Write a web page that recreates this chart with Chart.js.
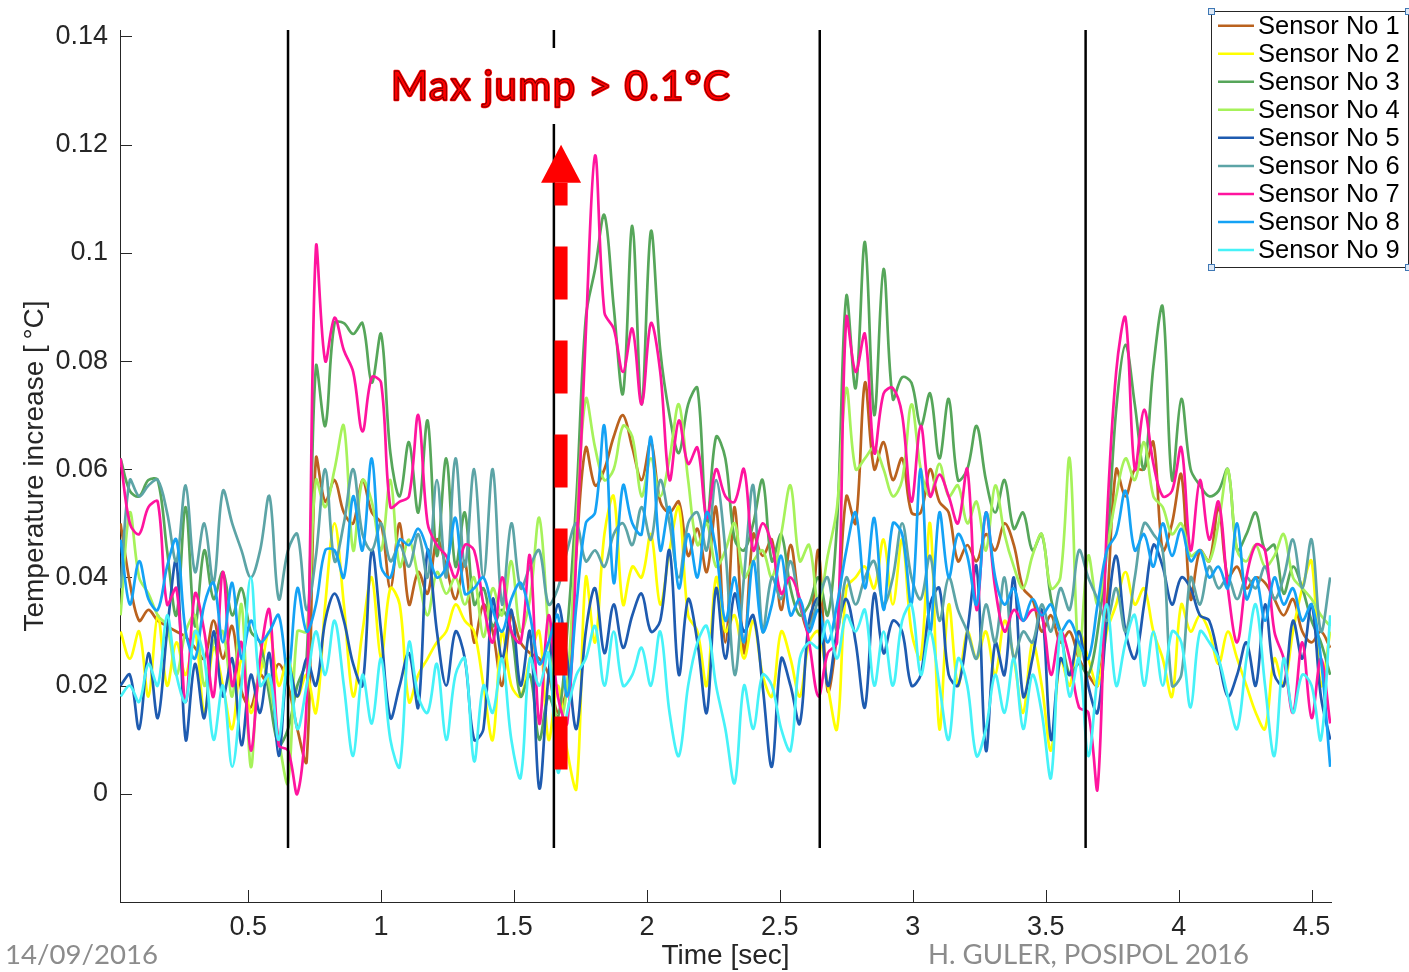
<!DOCTYPE html>
<html>
<head>
<meta charset="utf-8">
<script src="https://cdn.jsdelivr.net/npm/chart.js@4/dist/chart.umd.min.js"></script>
<style>
  html, body { margin: 0; padding: 0; background: #ffffff; }
  canvas { display: block; }
</style>
</head>
<body>
<canvas id="chart" width="1409" height="972"></canvas>
<script>
// Sampling of the sensor records [sec]
const sampleStart = 0.02;
const sampleStep = 0.035;

const sensorNames = ['Sensor No 1','Sensor No 2','Sensor No 3','Sensor No 4','Sensor No 5',
                     'Sensor No 6','Sensor No 7','Sensor No 8','Sensor No 9'];

// Temperature increase [°C] per sensor
const sensor1 = [
  0.05,0.039,0.032,0.034,0.032,0.031,0.03,0.029,0.027,0.025,
  0.032,0.025,0.031,0.019,0.016,0.022,0.02,0.024,0.02,0.012,
  0.006,0.062,0.054,0.058,0.052,0.05,0.058,0.052,0.05,0.038,
  0.05,0.035,0.041,0.037,0.047,0.042,0.036,0.043,0.028,0.035,
  0.03,0.02,0.033,0.028,0.026,0.025,0.022,0.015,0.02,0.045,
  0.064,0.057,0.06,0.066,0.07,0.064,0.058,0.065,0.054,0.052,
  0.054,0.044,0.049,0.041,0.053,0.028,0.053,0.026,0.048,0.044,
  0.047,0.034,0.046,0.035,0.03,0.045,0.019,0.03,0.055,0.05,
  0.076,0.06,0.065,0.058,0.062,0.052,0.052,0.06,0.054,0.052,
  0.043,0.046,0.043,0.048,0.045,0.05,0.046,0.038,0.036,0.03,
  0.033,0.028,0.03,0.025,0.022,0.02,0.035,0.06,0.055,0.06,
  0.06,0.065,0.045,0.05,0.059,0.036,0.045,0.043,0.053,0.04,
  0.042,0.038,0.04,0.039,0.036,0.033,0.036,0.03,0.028,0.03,
  0.027
];
const sensor2 = [
  0.03,0.025,0.03,0.018,0.033,0.02,0.028,0.022,0.03,0.015,
  0.027,0.02,0.012,0.025,0.015,0.022,0.03,0.02,0.025,0.018,
  0.022,0.015,0.035,0.05,0.035,0.018,0.03,0.04,0.025,0.038,
  0.035,0.017,0.022,0.025,0.028,0.03,0.035,0.032,0.03,0.02,
  0.01,0.03,0.02,0.018,0.025,0.03,0.01,0.02,0.008,0.001,
  0.04,0.028,0.048,0.055,0.035,0.042,0.04,0.048,0.035,0.045,
  0.053,0.033,0.03,0.02,0.04,0.03,0.033,0.025,0.032,0.022,
  0.018,0.03,0.025,0.018,0.028,0.03,0.02,0.012,0.038,0.04,
  0.042,0.038,0.047,0.035,0.047,0.03,0.025,0.05,0.012,0.035,
  0.02,0.03,0.025,0.03,0.022,0.032,0.025,0.015,0.028,0.02,
  0.008,0.025,0.02,0.03,0.025,0.02,0.03,0.035,0.041,0.035,
  0.038,0.03,0.025,0.018,0.035,0.03,0.033,0.03,0.024,0.03,
  0.025,0.02,0.015,0.012,0.025,0.02,0.03,0.038,0.043,0.02,
  0.03
];
const sensor3 = [
  0.062,0.056,0.055,0.058,0.058,0.045,0.033,0.053,0.031,0.045,
  0.036,0.041,0.033,0.038,0.03,0.028,0.018,0.009,0.012,0.02,
  0.025,0.079,0.068,0.087,0.087,0.085,0.087,0.076,0.085,0.063,
  0.055,0.065,0.052,0.069,0.044,0.062,0.042,0.052,0.035,0.038,
  0.031,0.034,0.03,0.018,0.022,0.01,0.018,0.014,0.03,0.055,
  0.088,0.097,0.107,0.09,0.074,0.105,0.072,0.104,0.082,0.07,
  0.063,0.072,0.075,0.05,0.066,0.062,0.047,0.045,0.05,0.058,
  0.043,0.048,0.038,0.033,0.035,0.04,0.033,0.05,0.092,0.075,
  0.102,0.07,0.097,0.073,0.077,0.076,0.068,0.074,0.062,0.073,
  0.058,0.06,0.068,0.058,0.052,0.058,0.049,0.052,0.045,0.048,
  0.036,0.03,0.022,0.024,0.022,0.03,0.045,0.071,0.083,0.072,
  0.06,0.079,0.09,0.058,0.073,0.06,0.057,0.055,0.056,0.06,
  0.045,0.048,0.052,0.045,0.046,0.037,0.042,0.038,0.032,0.028,
  0.022
];
const sensor4 = [
  0.033,0.052,0.04,0.037,0.033,0.031,0.022,0.03,0.033,0.02,
  0.028,0.03,0.018,0.035,0.005,0.025,0.02,0.01,0.002,0.03,
  0.03,0.058,0.053,0.06,0.068,0.045,0.058,0.054,0.045,0.058,
  0.042,0.047,0.04,0.033,0.041,0.037,0.04,0.035,0.04,0.029,
  0.038,0.033,0.043,0.03,0.036,0.051,0.03,0.012,0.02,0.05,
  0.073,0.064,0.058,0.06,0.068,0.066,0.055,0.062,0.055,0.062,
  0.072,0.058,0.046,0.05,0.042,0.045,0.05,0.04,0.043,0.045,
  0.04,0.048,0.057,0.043,0.046,0.035,0.044,0.053,0.075,0.06,
  0.062,0.064,0.06,0.055,0.058,0.072,0.06,0.055,0.061,0.055,
  0.057,0.05,0.054,0.045,0.057,0.048,0.042,0.038,0.044,0.048,
  0.038,0.04,0.062,0.025,0.044,0.035,0.045,0.055,0.062,0.058,
  0.065,0.055,0.053,0.048,0.05,0.044,0.045,0.043,0.05,0.06,
  0.045,0.043,0.046,0.042,0.044,0.048,0.04,0.038,0.036,0.033,
  0.031
];
const sensor5 = [
  0.02,0.022,0.012,0.026,0.014,0.03,0.043,0.01,0.024,0.014,
  0.03,0.018,0.025,0.009,0.022,0.015,0.026,0.007,0.024,0.018,
  0.025,0.02,0.032,0.037,0.032,0.024,0.02,0.045,0.03,0.014,
  0.02,0.026,0.016,0.045,0.03,0.02,0.03,0.025,0.01,0.012,
  0.036,0.025,0.034,0.02,0.03,0.001,0.022,0.035,0.025,0.012,
  0.03,0.038,0.026,0.035,0.027,0.033,0.037,0.03,0.032,0.045,
  0.022,0.036,0.028,0.015,0.038,0.025,0.037,0.03,0.033,0.02,
  0.005,0.025,0.02,0.013,0.032,0.036,0.02,0.03,0.036,0.028,
  0.016,0.037,0.026,0.032,0.03,0.02,0.022,0.035,0.038,0.022,
  0.02,0.03,0.042,0.008,0.028,0.022,0.04,0.018,0.025,0.034,
  0.01,0.025,0.022,0.03,0.02,0.015,0.032,0.044,0.03,0.025,
  0.035,0.046,0.042,0.035,0.04,0.038,0.033,0.032,0.025,0.018,
  0.022,0.028,0.02,0.035,0.022,0.02,0.032,0.025,0.035,0.018,
  0.01
];
const sensor6 = [
  0.038,0.058,0.055,0.057,0.058,0.052,0.043,0.057,0.041,0.05,
  0.039,0.056,0.05,0.045,0.04,0.045,0.055,0.036,0.045,0.048,
  0.034,0.044,0.06,0.043,0.05,0.06,0.048,0.045,0.05,0.043,
  0.046,0.042,0.048,0.04,0.058,0.04,0.062,0.042,0.06,0.04,
  0.06,0.035,0.05,0.038,0.042,0.045,0.035,0.038,0.045,0.05,
  0.043,0.045,0.042,0.048,0.05,0.046,0.053,0.047,0.058,0.05,
  0.04,0.05,0.052,0.045,0.058,0.045,0.022,0.04,0.057,0.03,
  0.04,0.036,0.043,0.035,0.031,0.036,0.04,0.03,0.04,0.035,
  0.04,0.043,0.035,0.04,0.05,0.04,0.036,0.044,0.032,0.04,
  0.034,0.03,0.025,0.035,0.028,0.04,0.025,0.03,0.028,0.035,
  0.03,0.038,0.034,0.045,0.04,0.036,0.032,0.038,0.03,0.04,
  0.05,0.048,0.045,0.02,0.022,0.04,0.035,0.042,0.038,0.04,
  0.036,0.04,0.038,0.042,0.036,0.04,0.047,0.038,0.047,0.03,
  0.04
];
const sensor7 = [
  0.062,0.05,0.048,0.053,0.054,0.035,0.038,0.017,0.037,0.03,
  0.018,0.041,0.02,0.028,0.008,0.025,0.034,0.009,0.008,0.0,
  0.017,0.101,0.08,0.088,0.082,0.078,0.067,0.077,0.076,0.053,
  0.054,0.055,0.07,0.05,0.046,0.044,0.04,0.046,0.045,0.035,
  0.028,0.04,0.03,0.028,0.044,0.013,0.033,0.018,0.013,0.045,
  0.085,0.118,0.089,0.086,0.078,0.086,0.072,0.087,0.078,0.058,
  0.069,0.061,0.064,0.051,0.06,0.055,0.054,0.06,0.045,0.05,
  0.046,0.037,0.04,0.036,0.028,0.018,0.026,0.028,0.088,0.078,
  0.085,0.063,0.074,0.075,0.07,0.054,0.068,0.055,0.059,0.055,
  0.05,0.06,0.034,0.052,0.038,0.03,0.034,0.032,0.034,0.033,
  0.022,0.03,0.025,0.016,0.015,0.001,0.05,0.078,0.088,0.06,
  0.071,0.061,0.055,0.056,0.064,0.045,0.058,0.047,0.054,0.038,
  0.028,0.04,0.046,0.045,0.03,0.025,0.015,0.028,0.014,0.025,
  0.013
];
const sensor8 = [
  0.047,0.035,0.043,0.036,0.034,0.042,0.047,0.03,0.025,0.035,
  0.039,0.028,0.039,0.025,0.032,0.028,0.03,0.033,0.022,0.038,
  0.03,0.035,0.045,0.045,0.04,0.055,0.045,0.062,0.042,0.04,
  0.047,0.046,0.049,0.045,0.04,0.042,0.051,0.037,0.038,0.04,
  0.034,0.03,0.036,0.039,0.033,0.024,0.028,0.033,0.018,0.035,
  0.05,0.052,0.068,0.039,0.057,0.05,0.048,0.066,0.045,0.053,
  0.038,0.048,0.04,0.052,0.045,0.032,0.04,0.028,0.043,0.03,
  0.035,0.044,0.033,0.036,0.03,0.034,0.028,0.035,0.045,0.052,
  0.038,0.051,0.034,0.05,0.048,0.035,0.06,0.03,0.052,0.04,
  0.048,0.044,0.035,0.052,0.04,0.035,0.038,0.032,0.036,0.033,
  0.035,0.03,0.032,0.028,0.025,0.035,0.045,0.048,0.056,0.045,
  0.048,0.042,0.05,0.044,0.049,0.043,0.045,0.04,0.042,0.038,
  0.05,0.036,0.04,0.032,0.04,0.035,0.038,0.032,0.035,0.025,
  0.005
];
const sensor9 = [
  0.018,0.02,0.017,0.024,0.02,0.033,0.022,0.017,0.03,0.025,
  0.01,0.02,0.005,0.02,0.04,0.02,0.022,0.01,0.025,0.012,
  0.02,0.03,0.022,0.032,0.02,0.007,0.022,0.013,0.025,0.01,
  0.005,0.028,0.018,0.015,0.024,0.01,0.022,0.025,0.006,0.02,
  0.015,0.025,0.01,0.003,0.025,0.02,0.026,0.004,0.015,0.022,
  0.025,0.031,0.02,0.03,0.02,0.022,0.027,0.02,0.03,0.015,
  0.007,0.02,0.028,0.031,0.02,0.012,0.002,0.02,0.012,0.022,
  0.02,0.012,0.008,0.025,0.028,0.027,0.032,0.025,0.033,0.03,
  0.034,0.02,0.03,0.02,0.032,0.035,0.022,0.03,0.02,0.01,
  0.025,0.02,0.007,0.012,0.022,0.015,0.025,0.012,0.022,0.015,
  0.003,0.03,0.018,0.025,0.007,0.022,0.035,0.02,0.028,0.033,
  0.02,0.03,0.02,0.03,0.028,0.016,0.03,0.028,0.025,0.018,
  0.012,0.025,0.035,0.02,0.007,0.025,0.015,0.022,0.02,0.01,
  0.033
];

// Moments of the beam steps [sec]
const stepTimes = [0.65, 1.65, 2.65, 3.65];

// Axis ranges and ticks
const xRange = [0.018, 4.573];
const yRange = [-0.02, 0.1412];
const xTicks = [0.5, 1, 1.5, 2, 2.5, 3, 3.5, 4, 4.5];
const xTickLabels = ['0.5', '1', '1.5', '2', '2.5', '3', '3.5', '4', '4.5'];
const yTicks = [0, 0.02, 0.04, 0.06, 0.08, 0.1, 0.12, 0.14];
const yTickLabels = ['0', '0.02', '0.04', '0.06', '0.08', '0.1', '0.12', '0.14'];
const stepLineBottom = -0.01;

// Annotation of the largest jump
const jumpTime = 1.677;
const jumpFrom = 0.0045;
const jumpTo = 0.12;
const jumpText = 'Max jump > 0.1°C';

// Styles
const sensorColors = ['#BA621E', '#FFFF00', '#56A65A', '#A6F25A', '#1E5BB0',
                      '#5CA4A6', '#FF149E', '#14A2F5', '#46F2F8'];
const axisColor = '#262626';
const sansFont = '"Liberation Sans", Arial, Helvetica, sans-serif';
const slideFont = 'Lato, "Open Sans", sans-serif';

const sensorSeries = [sensor1, sensor2, sensor3, sensor4, sensor5, sensor6, sensor7, sensor8, sensor9];
const time = sensor1.map((_, i) => Math.round((sampleStart + i * sampleStep) * 1000) / 1000);

const datasets = sensorSeries.map((values, k) => ({
  label: sensorNames[k],
  data: values.map((v, i) => ({ x: time[i], y: v })),
  borderColor: sensorColors[k],
  borderWidth: 2.7,
  pointRadius: 0,
  tension: 0.35,
  fill: false,
  order: 20 - k
}));
stepTimes.forEach(t => datasets.push({
  label: '',
  data: [{ x: t, y: stepLineBottom }, { x: t, y: yRange[1] }],
  borderColor: '#000000',
  borderWidth: 2.5,
  pointRadius: 0,
  fill: false,
  order: 0
}));

// Fit a font size so that the text spans the given width
function fitFont(ctx, text, weight, family, width) {
  ctx.font = weight + ' 100px ' + family;
  const w = ctx.measureText(text).width;
  return weight + ' ' + (100 * width / w).toFixed(2) + 'px ' + family;
}

const decorations = {
  id: 'decorations',
  beforeDatasetsDraw(chart) {
    // Tick marks pointing into the plot
    const { ctx, scales: { x, y }, chartArea: a } = chart;
    ctx.save();
    ctx.strokeStyle = axisColor;
    ctx.lineWidth = 1;
    ctx.beginPath();
    yTicks.forEach(v => {
      const py = Math.round(y.getPixelForValue(v)) + 0.5;
      ctx.moveTo(a.left, py); ctx.lineTo(a.left + 12, py);
    });
    xTicks.forEach(v => {
      const px = Math.round(x.getPixelForValue(v)) + 0.5;
      ctx.moveTo(px, a.bottom); ctx.lineTo(px, a.bottom - 12);
    });
    ctx.stroke();
    ctx.restore();
  },
  afterDraw(chart) {
    const { ctx, scales: { x, y }, chartArea: a } = chart;
    ctx.save();

    // Dashed arrow marking the jump
    const ax = x.getPixelForValue(jumpTime);
    const yBottom = y.getPixelForValue(jumpFrom);
    const yTip = y.getPixelForValue(jumpTo);
    const yBase = yTip + 38;
    ctx.strokeStyle = '#FF0000';
    ctx.fillStyle = '#FF0000';
    ctx.lineWidth = 13;
    ctx.lineCap = 'butt';
    ctx.setLineDash([53, 41]);
    ctx.beginPath();
    ctx.moveTo(ax, yBottom);
    ctx.lineTo(ax, yBase);
    ctx.stroke();
    ctx.setLineDash([]);
    ctx.beginPath();
    ctx.moveTo(ax, yTip);
    ctx.lineTo(ax - 20, yBase);
    ctx.lineTo(ax + 20, yBase);
    ctx.closePath();
    ctx.fill();

    // Annotation text on a white box: red glyphs with a thin dark outline
    ctx.fillStyle = '#ffffff';
    ctx.fillRect(383, 48, 356, 76);
    ctx.save();
    ctx.font = 'normal 41px ' + slideFont;
    ctx.letterSpacing = '1.5px';
    const tw = ctx.measureText(jumpText).width;
    ctx.translate(ax, 100);
    ctx.scale(Math.min(1.05, 340 / tw), 1);
    ctx.textAlign = 'center';
    ctx.textBaseline = 'alphabetic';
    ctx.lineJoin = 'round';
    ctx.strokeStyle = '#FF0000';
    ctx.lineWidth = 2.6;
    ctx.strokeText(jumpText, 0, 0);
    ctx.fillStyle = '#FF0000';
    ctx.fillText(jumpText, 0, 0);
    ctx.strokeStyle = 'rgba(60,0,0,0.8)';
    ctx.lineWidth = 0.8;
    ctx.strokeText(jumpText, 0, 0);
    ctx.restore();

    // Axis titles
    ctx.fillStyle = axisColor;
    ctx.font = '28px ' + sansFont;
    ctx.textAlign = 'center';
    ctx.textBaseline = 'middle';
    ctx.fillText('Time [sec]', (a.left + a.right) / 2, 956);
    ctx.save();
    ctx.translate(35, (a.top + a.bottom) / 2);
    ctx.rotate(-Math.PI / 2);
    ctx.fillText('Temperature increase [\u2009°C]', 0, 0);
    ctx.restore();

    // Footer
    ctx.fillStyle = '#8C8C8C';
    ctx.textAlign = 'left';
    ctx.textBaseline = 'middle';
    ctx.font = fitFont(ctx, '14/09/2016', 'normal', slideFont, 153);
    ctx.fillText('14/09/2016', 5, 955);
    ctx.font = fitFont(ctx, 'H. GULER, POSIPOL 2016', 'normal', slideFont, 321);
    ctx.fillText('H. GULER, POSIPOL 2016', 928, 955);

    // Legend
    const lx = 1211, ly = 11, lw = 197, lh = 256;
    ctx.fillStyle = '#ffffff';
    ctx.fillRect(lx, ly, lw, lh);
    ctx.strokeStyle = axisColor;
    ctx.lineWidth = 1;
    ctx.strokeRect(lx + 0.5, ly + 0.5, lw, lh);
    ctx.font = '25.5px ' + sansFont;
    ctx.textAlign = 'left';
    ctx.textBaseline = 'middle';
    chart.data.datasets.slice(0, sensorNames.length).forEach((ds, k) => {
      const ry = 25.7 + 28.04 * k;
      ctx.strokeStyle = ds.borderColor;
      ctx.lineWidth = 2.5;
      ctx.beginPath();
      ctx.moveTo(1218, ry); ctx.lineTo(1254, ry);
      ctx.stroke();
      ctx.fillStyle = '#000000';
      ctx.fillText(ds.label, 1258, ry + 1);
    });
    // Selection handles on the legend corners
    ctx.strokeStyle = '#3F78B5';
    ctx.fillStyle = '#DDE8F5';
    ctx.lineWidth = 1;
    [[lx, ly], [lx + lw, ly], [lx, ly + lh], [lx + lw, ly + lh]].forEach(([hx, hy]) => {
      ctx.fillRect(hx - 2.5, hy - 2.5, 6, 6);
      ctx.strokeRect(hx - 2.5, hy - 2.5, 6, 6);
    });

    ctx.restore();
  }
};

new Chart(document.getElementById('chart'), {
  type: 'line',
  data: { datasets },
  options: {
    responsive: false,
    animation: false,
    devicePixelRatio: 1,
    events: [],
    layout: { padding: { left: 0, right: 78, top: 30, bottom: 0 } },
    plugins: { legend: { display: false }, tooltip: { enabled: false } },
    scales: {
      x: {
        type: 'linear',
        min: xRange[0],
        max: xRange[1],
        afterBuildTicks: s => { s.ticks = xTicks.map(v => ({ value: v })); },
        afterFit: s => { s.height = 70; },
        ticks: {
          callback: (v, i) => xTickLabels[i],
          font: { family: sansFont, size: 27 },
          color: axisColor,
          padding: 9,
          maxRotation: 0,
          autoSkip: false
        },
        grid: { display: false, drawTicks: false },
        border: { display: true, color: axisColor, width: 1 }
      },
      y: {
        type: 'linear',
        min: yRange[0],
        max: yRange[1],
        afterBuildTicks: s => { s.ticks = yTicks.map(v => ({ value: v })); },
        afterFit: s => { s.width = 120; },
        ticks: {
          callback: (v, i) => yTickLabels[i],
          font: { family: sansFont, size: 27 },
          color: axisColor,
          padding: 12,
          autoSkip: false
        },
        grid: { display: false, drawTicks: false },
        border: { display: true, color: axisColor, width: 1 }
      }
    }
  },
  plugins: [decorations]
});
</script>
</body>
</html>
